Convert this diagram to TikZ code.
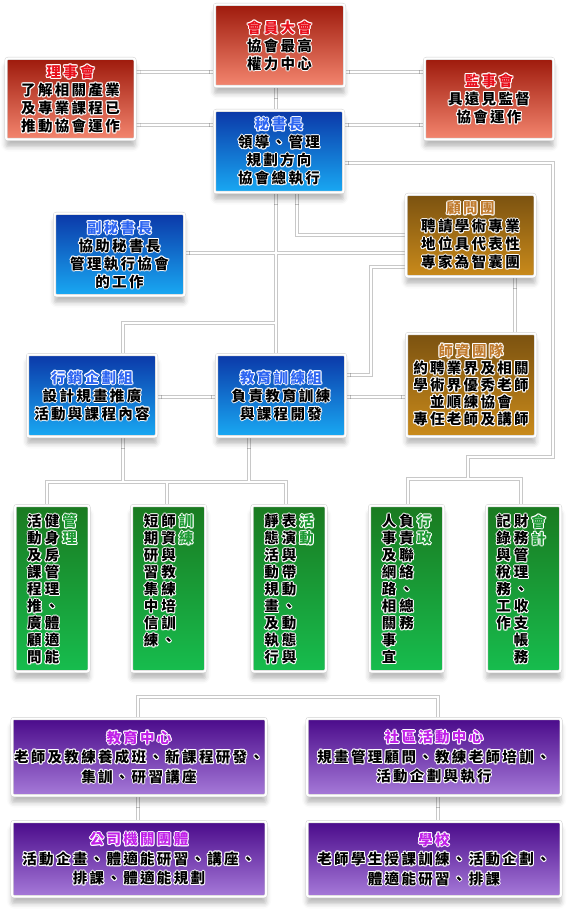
\documentclass[tikz,border=0pt]{standalone}
\usepackage{fontspec}
\setmainfont{Noto Sans CJK TC}
\newfontfamily\cjkb{Noto Sans CJK TC}[LetterSpace=16]
\newfontfamily\cjkv{Noto Sans CJK TC}
\usetikzlibrary{shadows.blur}
\pgfdeclarelayer{bg}\pgfsetlayers{bg,main}
\definecolor{rtop}{HTML}{9E1A0C}
\definecolor{rbot}{HTML}{F4866F}
\definecolor{btop}{HTML}{0B38A8}
\definecolor{bbot}{HTML}{19A9F3}
\definecolor{otop}{HTML}{7B5210}
\definecolor{obot}{HTML}{CA8B1B}
\definecolor{gtop}{HTML}{1A7A20}
\definecolor{gbot}{HTML}{17BD4E}
\definecolor{ptop}{HTML}{4A0A8A}
\definecolor{pbot}{HTML}{A67AD9}
\definecolor{rtx}{HTML}{E8101C}
\definecolor{btx}{HTML}{2E66F2}
\definecolor{otx}{HTML}{C07A2C}
\definecolor{gtx}{HTML}{1E9A34}
\definecolor{ptx}{HTML}{C020E8}
\definecolor{lnc}{HTML}{C8C8C8}
\newcommand\hl[2]{{\setbox0\hbox{#2}%
\rlap{\color{white}\kern-1pt\copy0}\rlap{\color{white}\kern1pt\copy0}%
\rlap{\color{white}\raise1pt\copy0}\rlap{\color{white}\lower1pt\copy0}%
\rlap{\color{white}\kern-.75pt\raise.75pt\copy0}\rlap{\color{white}\kern.75pt\raise.75pt\copy0}%
\rlap{\color{white}\kern-.75pt\lower.75pt\copy0}\rlap{\color{white}\kern.75pt\lower.75pt\copy0}%
{\color{#1}\box0}}}
\def\vcolor{black}
\def\vcolloop#1{\ifx\relax#1\else\hbox to 17pt{\hss\hl{\vcolor}{#1}\hss}\expandafter\vcolloop\fi}
\newcommand\vcol[2]{\def\vcolor{#1}\vbox{\baselineskip=17pt\lineskiplimit=-20pt\lineskip=0pt\vcolloop#2\relax}}
\tikzset{
 box/.style={rectangle, rounded corners=2pt, draw=black!18, double=white, double distance=2pt,
   line width=0.5pt, inner sep=0pt, align=center,
   blur shadow={shadow xshift=0pt, shadow yshift=-7pt, shadow blur radius=5pt, shadow opacity=28},
   font=\cjkb\bfseries\fontsize{14.5}{18}\selectfont},
 bw/.style={minimum width=129pt, minimum height=82pt},
 redbox/.style={box, bw, top color=rtop, bottom color=rbot},
 bluebox/.style={box, bw, top color=btop, bottom color=bbot},
 brownbox/.style={box, bw, top color=otop, bottom color=obot},
 greenbox/.style={box, minimum width=74pt, minimum height=166pt, top color=gtop, bottom color=gbot},
 purplebox/.style={box, minimum width=254pt, top color=ptop, bottom color=pbot,
   font=\cjkb\bfseries\fontsize{14.5}{19.5}\selectfont},
 vtext/.style={inner sep=0pt, anchor=north, font=\cjkv\bfseries\fontsize{14.5}{17}\selectfont},
 connout/.style={draw=lnc, line width=3.6pt},
 connin/.style={draw=white, line width=1.3pt},
}
\newcommand\conns[1]{%
 \draw[#1] (ls.east|-yA) -- (hy.west|-yA);
 \draw[#1] (hy.east|-yA) -- (js.west|-yA);
 \draw[#1] (ls.east|-yB) -- (ms.west|-yB);
 \draw[#1] (ms.east|-yB) -- (js.west|-yB);
 \draw[#1] (hy.south-|xA) -- (ms.north-|xA);
 \draw[#1] (ms.south-|xA) -- (jy.north-|xA);
 \draw[#1] (ms.south-|xB) |- (gw.west|-yD);
 \draw[#1] (fm.east|-yE) -- (gw.west|-yE);
 \draw[#1] (xA|-yG) -| (xx.north-|xC);
 \draw[#1] (jy.east|-yH) -| (xD|-yF) -- (gw.west|-yF);
 \draw[#1] (xx.east|-yI) -- (jy.west|-yI);
 \draw[#1] (jy.east|-yI) -- (sz.west|-yI);
 \draw[#1] (gw.south-|xE) -- (sz.north-|xE);
 \draw[#1] (ms.east|-yC) -| (xF|-yJ) -| (xG|-yK);
 \draw[#1] ([xshift=1.5pt]g4.north) |- ([xshift=-2.5pt]g5.north|-yK) -- ([xshift=-2.5pt]g5.north);
 \draw[#1] (xx.south-|xC) -- (xC|-yL);
 \draw[#1] (jy.south-|xH) -- (xH|-yL);
 \draw[#1] ([xshift=-5pt]g1.north) |- ([xshift=-3pt]g3.north|-yL) -- ([xshift=-3pt]g3.north);
 \draw[#1] ([xshift=-1.5pt]g2.north) -- ([xshift=-1.5pt]g2.north|-yL);
 \draw[#1] (p1.north-|xI) |- (xJ|-yM) -- (p2.north-|xJ);
 \draw[#1] (p1.south-|xI) -- (p3.north-|xI);
 \draw[#1] (p2.south-|xJ) -- (p4.north-|xJ);
}
\begin{document}
\begin{tikzpicture}[x=1pt,y=-1pt]
\useasboundingbox (0,0) rectangle (575,917);
\begin{pgfonlayer}{bg}
\fill[white] (0,0) rectangle (575,917);
\end{pgfonlayer}
% hidden primer for the shadow fading (covered by box g3)
\node[box, fill=white, minimum width=8pt, minimum height=8pt] (primer) at (289,588) {};
% routing coordinates
\coordinate (yA) at (0,72);  \coordinate (yB) at (0,125); \coordinate (yC) at (0,163);
\coordinate (yD) at (0,235); \coordinate (yE) at (0,253); \coordinate (yF) at (0,267);
\coordinate (yG) at (0,323); \coordinate (yH) at (0,375); \coordinate (yI) at (0,397);
\coordinate (yJ) at (0,457); \coordinate (yK) at (0,479); \coordinate (yL) at (0,482);
\coordinate (yM) at (0,697);
\coordinate (xA) at (276,0); \coordinate (xB) at (297,0); \coordinate (xC) at (123,0);
\coordinate (xD) at (371,0); \coordinate (xE) at (515,0); \coordinate (xF) at (553,0);
\coordinate (xG) at (468,0); \coordinate (xH) at (249,0); \coordinate (xI) at (138,0);
\coordinate (xJ) at (438,0);
% boxes
\node[redbox, minimum width=130pt] (hy) at (279.5,45.5)
 {\hl{rtx}{會員大會}\\\hl{black}{協會最高}\\\hl{black}{權力中心}};
\node[redbox, minimum height=81pt] (ls) at (70.5,99)
 {\hl{rtx}{理事會}\\\hl{black}{了解相關產業}\\\hl{black}{及專業課程已}\\\hl{black}{推動協會運作}};
\node[redbox, minimum height=81pt] (js) at (489,99)
 {\hl{rtx}{監事會}\\\hl{black}{具遠見監督}\\\hl{black}{協會運作}};
\node[bluebox] (ms) at (279,151.5)
 {\hl{btx}{秘書長}\\\hl{black}{領導、管理}\\\hl{black}{規劃方向}\\\hl{black}{協會總執行}};
\node[brownbox] (gw) at (470.5,235.5)
 {\hl{otx}{顧問團}\\\hl{black}{聘請學術專業}\\\hl{black}{地位具代表性}\\\hl{black}{專家為智囊團}};
\node[bluebox, minimum width=130pt] (fm) at (119.5,254.5)
 {\hl{btx}{副秘書長}\\\hl{black}{協助秘書長}\\\hl{black}{管理執行協會}\\\hl{black}{的工作}};
\node[bluebox] (xx) at (92,395.5)
 {\hl{btx}{行銷企劃組}\\\hl{black}{設計規畫推廣}\\\hl{black}{活動與課程內容}};
\node[bluebox] (jy) at (281,395.5)
 {\hl{btx}{教育訓練組}\\\hl{black}{負責教育訓練}\\\hl{black}{與課程開發}};
\node[brownbox, minimum height=103pt, font=\cjkb\bfseries\fontsize{14.5}{17}\selectfont] (sz) at (471,385)
 {\hl{otx}{師資團隊}\\\hl{black}{約聘業界及相關}\\\hl{black}{學術界優秀老師}\\\hl{black}{並順練協會}\\\hl{black}{專任老師及講師}};
% green boxes
\node[greenbox] (g1) at (52,588.5) {};
\node[greenbox] (g2) at (168.5,588.5) {};
\node[greenbox] (g3) at (289,588.5) {};
\node[greenbox] (g4) at (406.5,588.5) {};
\node[greenbox] (g5) at (523.5,588.5) {};
\node[vtext] (g1a) at ([xshift=17.5pt,yshift=-8pt]g1.north) {\vcol{gtx}{管理}};
\node[vtext] (g1b) at ([yshift=-8pt]g1.north) {\vcol{black}{健身房管理、體適能}};
\node[vtext] (g1c) at ([xshift=-17.5pt,yshift=-8pt]g1.north) {\vcol{black}{活動及課程推廣顧問}};
\node[vtext] (g2a) at ([xshift=17.5pt,yshift=-8pt]g2.north) {\vcol{gtx}{訓練}};
\node[vtext] (g2b) at ([yshift=-8pt]g2.north) {\vcol{black}{師資與教練培訓、}};
\node[vtext] (g2c) at ([xshift=-17.5pt,yshift=-8pt]g2.north) {\vcol{black}{短期研習集中信練}};
\node[vtext] (g3a) at ([xshift=17.5pt,yshift=-8pt]g3.north) {\vcol{gtx}{活動}};
\node[vtext] (g3b) at ([yshift=-8pt]g3.north) {\vcol{black}{表演與帶動、動態與}};
\node[vtext] (g3c) at ([xshift=-17.5pt,yshift=-8pt]g3.north) {\vcol{black}{靜態活動規畫及執行}};
\node[vtext] (g4a) at ([xshift=17.5pt,yshift=-8pt]g4.north) {\vcol{gtx}{行政}};
\node[vtext] (g4b) at ([yshift=-8pt]g4.north) {\vcol{black}{負責聯絡、總務}};
\node[vtext] (g4c) at ([xshift=-17.5pt,yshift=-8pt]g4.north) {\vcol{black}{人事及網路相關事宜}};
\node[vtext] (g5a) at ([xshift=15pt,yshift=-8pt]g5.north) {\vcol{gtx}{會計}};
\node[vtext] (g5b) at ([xshift=-2.5pt,yshift=-8pt]g5.north) {\vcol{black}{財務管理、收支帳務}};
\node[vtext] (g5c) at ([xshift=-20pt,yshift=-8pt]g5.north) {\vcol{black}{記錄與稅務工作}};
% purple boxes
\node[purplebox, minimum height=77pt] (p1) at (139,757)
 {\hl{ptx}{教育中心}\\\hl{black}{老師及教練養成班、新課程研發、}\\\hl{black}{集訓、研習講座}};
\node[purplebox, minimum height=77pt] (p2) at (434,757)
 {\hl{ptx}{社區活動中心}\\\hl{black}{規畫管理顧問、教練老師培訓、}\\\hl{black}{活動企劃與執行}};
\node[purplebox, minimum height=75pt] (p3) at (139,859)
 {\hl{ptx}{公司機關團體}\\\hl{black}{活動企畫、體適能研習、講座、}\\\hl{black}{排課、體適能規劃}};
\node[purplebox, minimum height=75pt] (p4) at (434,859)
 {\hl{ptx}{學校}\\\hl{black}{老師學生授課訓練、活動企劃、}\\\hl{black}{體適能研習、排課}};
% connectors
\begin{pgfonlayer}{bg}
\conns{connout}
\conns{connin}
\end{pgfonlayer}
\end{tikzpicture}
\end{document}
